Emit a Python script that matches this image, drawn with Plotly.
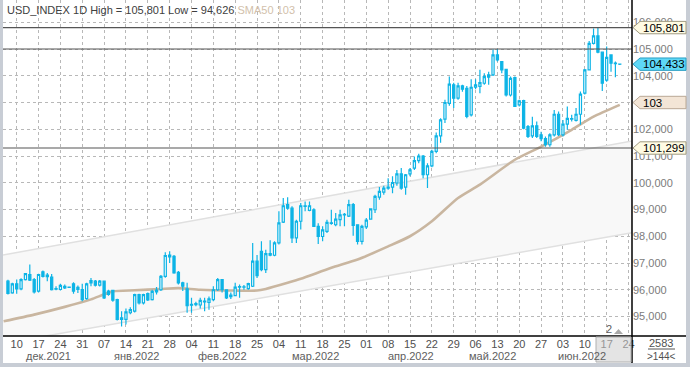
import plotly.graph_objects as go

# ---------------- data ----------------
first_index = -2   # trading-day number of the first candle, 0 = 10 Dec 2021
opens = [96.32, 95.88, 96.22, 96.03, 96.38, 96.57, 96.38, 95.95, 96.67, 96.55,
         96.47, 96.04, 96.01, 96.13, 96.09, 96.22, 96.01, 96.01, 95.67, 96.26,
         96.32, 96.17, 96.32, 95.95, 95.98, 95.63, 94.95, 94.89, 95.14, 95.20,
         95.82, 95.51, 95.86, 95.63, 95.92, 96.00, 96.50, 97.30, 97.25, 96.65,
         96.26, 96.03, 95.45, 95.44, 95.43, 95.55, 95.53, 95.63, 96.00, 96.38,
         96.00, 95.80, 95.78, 96.10, 96.10, 96.04, 96.13, 97.07, 97.44, 96.75,
         97.35, 97.29, 97.75, 98.53, 99.18, 99.05, 97.94, 98.56, 99.12, 98.97,
         98.99, 98.37, 97.99, 98.18, 98.50, 98.43, 98.62, 98.80, 98.75, 99.18,
         98.43, 97.81, 98.35, 98.64, 98.99, 99.46, 99.65, 99.80, 99.84, 99.99,
         100.33, 99.84, 100.33, 100.55, 100.83, 101.00, 100.30, 100.63, 101.17, 101.75,
         102.38, 102.97, 103.66, 103.16, 103.62, 103.53, 102.54, 103.57, 103.60, 103.72,
         103.95, 104.03, 104.78, 104.53, 104.24, 103.28, 103.93, 102.91, 103.07, 102.10,
         101.75, 102.13, 101.79, 101.65, 101.42, 101.79, 102.56, 101.79, 102.19, 102.38,
         102.33, 102.56, 103.35, 104.22, 105.21, 105.49, 104.88, 103.84, 104.78, 104.45,
         104.43]
highs = [96.37, 96.26, 96.38, 96.43, 96.63, 96.94, 96.44, 96.60, 96.72, 96.63,
         96.59, 96.13, 96.22, 96.20, 96.12, 96.28, 96.16, 96.22, 96.26, 96.44,
         96.36, 96.36, 96.34, 96.00, 96.00, 95.66, 95.20, 95.30, 95.35, 95.85,
         95.85, 95.85, 95.90, 96.00, 96.10, 96.55, 97.40, 97.44, 97.30, 96.70,
         96.30, 96.26, 95.70, 95.55, 95.70, 95.70, 95.75, 96.13, 96.44, 96.40,
         96.02, 95.90, 96.26, 96.20, 96.18, 96.26, 97.75, 97.30, 97.81, 97.50,
         97.85, 97.81, 98.93, 99.43, 99.46, 99.12, 98.62, 99.24, 99.30, 99.30,
         99.05, 98.49, 98.37, 98.62, 98.99, 98.87, 98.99, 98.87, 99.36, 99.24,
         98.45, 98.43, 98.68, 99.05, 99.55, 99.84, 99.89, 100.17, 100.24, 100.48,
         100.55, 100.33, 100.55, 100.98, 101.08, 101.04, 100.73, 101.23, 101.88, 102.41,
         103.10, 103.97, 103.74, 103.74, 103.66, 103.62, 103.87, 103.87, 104.22, 104.09,
         104.15, 104.99, 105.00, 104.55, 104.26, 103.97, 103.97, 103.10, 103.10, 102.16,
         102.47, 102.29, 101.91, 101.73, 101.85, 102.72, 102.66, 102.35, 102.85, 102.54,
         102.79, 103.41, 104.25, 105.30, 105.77, 105.801, 104.90, 105.09, 104.80, 104.53,
         104.46]
lows = [95.82, 95.85, 95.85, 95.98, 96.35, 96.33, 95.86, 95.90, 96.46, 96.32,
        95.97, 95.98, 95.97, 96.03, 96.07, 95.85, 95.88, 95.57, 95.63, 96.13,
        96.12, 96.12, 95.65, 95.78, 95.55, 94.85, 94.626, 94.70, 95.08, 95.15,
        95.45, 95.45, 95.58, 95.60, 95.82, 95.95, 96.45, 97.00, 96.60, 96.20,
        95.95, 95.14, 95.14, 95.38, 95.30, 95.20, 95.25, 95.57, 95.95, 95.90,
        95.65, 95.65, 95.76, 95.70, 96.00, 96.00, 96.10, 96.44, 96.69, 96.63,
        97.25, 97.25, 97.69, 98.50, 98.99, 97.75, 97.75, 98.25, 98.93, 98.93,
        98.35, 97.71, 97.81, 98.12, 98.43, 98.37, 98.37, 98.37, 98.72, 98.02,
        97.69, 97.69, 98.27, 98.62, 98.87, 99.36, 99.55, 99.74, 99.61, 99.89,
        99.74, 99.55, 100.24, 100.48, 100.73, 100.17, 99.80, 100.58, 101.10, 101.50,
        102.23, 102.88, 102.79, 103.10, 103.40, 102.41, 102.48, 103.50, 103.35, 103.66,
        103.66, 103.99, 104.53, 104.09, 103.22, 103.22, 102.83, 102.85, 102.00, 101.67,
        101.67, 101.67, 101.55, 101.35, 101.35, 101.73, 101.75, 101.73, 101.98, 102.29,
        102.29, 102.17, 103.30, 104.20, 105.17, 104.84, 103.43, 103.78, 104.15, 103.94,
        104.40]
closes = [95.86, 96.22, 96.03, 96.38, 96.60, 96.36, 95.92, 96.57, 96.50, 96.49,
          96.00, 96.02, 96.16, 96.07, 96.10, 95.95, 96.09, 95.63, 96.22, 96.34,
          96.17, 96.32, 95.70, 95.83, 95.61, 94.89, 94.89, 95.17, 95.26, 95.82,
          95.51, 95.82, 95.62, 95.94, 95.99, 96.50, 97.28, 97.23, 96.63, 96.26,
          96.13, 95.41, 95.42, 95.48, 95.60, 95.58, 95.66, 96.00, 96.38, 96.00,
          95.70, 95.74, 96.10, 96.12, 96.11, 96.23, 97.07, 96.53, 96.75, 97.35,
          97.29, 97.75, 98.50, 99.14, 99.05, 97.94, 98.56, 99.14, 99.14, 99.14,
          98.37, 97.99, 98.24, 98.52, 98.48, 98.64, 98.80, 98.82, 99.18, 98.41,
          97.81, 98.37, 98.60, 99.02, 99.49, 99.68, 99.80, 99.84, 100.01, 100.33,
          99.80, 100.30, 100.48, 100.83, 101.00, 100.30, 100.63, 101.17, 101.75, 102.35,
          103.00, 103.69, 103.16, 103.62, 103.50, 102.48, 103.57, 103.66, 103.74, 103.97,
          104.03, 104.78, 104.59, 104.22, 103.28, 103.90, 102.85, 103.06, 102.04, 101.73,
          102.13, 101.73, 101.65, 101.42, 101.79, 102.56, 101.80, 102.19, 102.41, 102.40,
          102.56, 103.31, 104.22, 105.21, 105.49, 104.88, 103.72, 104.69, 104.47, 104.47,
          104.433]

# SMA50 (trading-day number, value)
sma_days = [-3, 4, 11, 17, 22, 27, 33, 37, 42, 50, 55, 57, 62, 65, 72, 78,
            85, 90, 95, 101, 106, 114, 120, 127, 132, 138]
sma_vals = [94.82, 95.07, 95.36, 95.64, 95.94, 95.98, 96.03, 96.06, 96.00, 95.97,
            95.97, 96.03, 96.26, 96.41, 96.82, 97.13, 97.62, 98.00, 98.56, 99.43,
            99.93, 100.86, 101.35, 101.98, 102.47, 102.91]

# regression channel end points
channel_days = [-3.135, 140.8]
channel_upper = [97.30, 101.56]
channel_lower = [93.99, 98.13]

# horizontal levels
level_high = 105.801
level_mid = 105.0
level_low = 101.299
last_price = 104.433
sma_last = 103

# week ticks (Fridays) and labels
week_days = list(range(0, 141, 5))
day_labels = ["10", "17", "24", "31", "07", "14", "21", "28", "04", "11", "18", "25",
              "04", "11", "18", "25", "01", "08", "15", "22", "29", "06", "13", "20",
              "27", "03", "10", "17", "24"]
month_labels = ["дек.2021", "янв.2022", "фев.2022", "мар.2022", "апр.2022", "май.2022", "июн.2022"]
month_pos = [7.2, 27.3, 47.2, 68.3, 90.2, 108.8, 129.4]
y_ticks = [95, 96, 97, 98, 99, 100, 101, 102, 103, 104, 105, 106]
# 103,000 sits completely under the SMA price box in the reference
y_tick_text = ["95,000", "96,000", "97,000", "98,000", "99,000", "100,000", "101,000",
               "102,000", "", "104,000", "105,000", "106,000"]

# ---------------- styling / geometry ----------------
W, H = 690, 367
L, R, T, B = 3, 58, 0, 31
PW = W - L - R   # 629
PH = H - T - B   # 336
X_RANGE = [-3.135, 140.8]
Y_RANGE = [94.271, 106.832]
BLUE = "#0db4e6"
FONT = "Liberation Sans, Arial, sans-serif"


def px(xp):
    return (xp - L) / PW


def py(yp):
    return (PH + T - yp) / PH


days = list(range(first_index, first_index + len(opens)))

fig = go.Figure()

# channel band (base axes)
fig.add_trace(go.Scatter(
    x=channel_days + channel_days[::-1],
    y=channel_upper + channel_lower[::-1],
    fill="toself", fillcolor="#f8f8f8", mode="lines",
    line=dict(color="#e0e0e0", width=1.5), hoverinfo="skip", showlegend=False))

# SMA (base axes)
fig.add_trace(go.Scatter(
    x=sma_days, y=sma_vals, mode="lines",
    line=dict(color="#c9b6a0", width=2.6, shape="spline", smoothing=0.6),
    hoverinfo="skip", showlegend=False))

# candles on overlaying axes so they sit above the band and SMA
fig.add_trace(go.Candlestick(
    x=days, open=opens, high=highs, low=lows, close=closes,
    xaxis="x2", yaxis="y2",
    increasing=dict(line=dict(color=BLUE, width=1.2), fillcolor="white"),
    decreasing=dict(line=dict(color=BLUE, width=1.2), fillcolor=BLUE),
    whiskerwidth=0, showlegend=False))

shapes = []
# white chart background inside window frame
shapes.append(dict(type="rect", xref="paper", yref="paper", x0=px(3), x1=px(686),
                   y0=py(363), y1=py(0) + 0.01, fillcolor="white", line=dict(width=0),
                   layer="below"))
# horizontal level lines
for lv in (level_high, level_mid, level_low):
    shapes.append(dict(type="line", xref="paper", yref="y", x0=0, x1=1, y0=lv, y1=lv,
                       line=dict(color="#555555", width=1.2), layer="above"))
# frame lines
shapes.append(dict(type="line", xref="paper", yref="paper", x0=1, x1=1, y0=py(363), y1=1,
                   line=dict(color="black", width=1.5), layer="above"))
shapes.append(dict(type="line", xref="paper", yref="paper", x0=0, x1=px(686), y0=0, y1=0,
                   line=dict(color="black", width=1.5), layer="above"))
# scroll box in time axis
shapes.append(dict(type="rect", xref="paper", yref="paper", x0=px(596), x1=px(631),
                   y0=py(362), y1=py(337), fillcolor="rgba(205,205,205,0.55)",
                   line=dict(color="#b0b0b0", width=1), layer="above"))
# underline under 2583
shapes.append(dict(type="line", xref="paper", yref="paper", x0=px(648), x1=px(675),
                   y0=py(349), y1=py(349), line=dict(color="#555555", width=1), layer="above"))
# small triangle marker
shapes.append(dict(type="path", xref="paper", yref="paper",
                   path=f"M {px(614)},{py(334)} L {px(623)},{py(334)} L {px(618.5)},{py(329)} Z",
                   fillcolor="#a8a8a8", line=dict(width=0), layer="above"))

annotations = []
# price label boxes
hh = 6.2 / 26.75
for val, txt, bg, border in [
    (level_high, "105,801", "#fffbe3", "#a09a80"),
    (last_price, "104,433", "#5ed8f7", "#2a9fc4"),
    (sma_last, "103", "#f3e5d6", "#b9a895"),
    (level_low, "101,299", "#fffbe3", "#a09a80"),
]:
    x_tip, x_l, x_r = px(633), px(640), px(686)
    shapes.append(dict(type="path", xref="paper", yref="y",
                       path=(f"M {x_tip},{val} L {x_l},{val + hh} L {x_r},{val + hh} "
                             f"L {x_r},{val - hh} L {x_l},{val - hh} Z"),
                       fillcolor=bg, line=dict(color=border, width=1), layer="above"))
    annotations.append(dict(xref="paper", yref="y", x=px(641), y=val, text=txt,
                            showarrow=False, xanchor="left", yanchor="middle",
                            font=dict(family=FONT, size=11.5, color="black")))

# header
annotations.append(dict(
    xref="paper", yref="paper", x=px(5), y=py(10), xanchor="left", yanchor="middle",
    text=("USD_INDEX 1D High = 105,801 Low = 94,626&nbsp;"
          "<span style='color:#d2bfab'>SMA50 103</span>"),
    showarrow=False, font=dict(family=FONT, size=11, color="#404040")))

# month labels
for pos, txt in zip(month_pos, month_labels):
    annotations.append(dict(xref="x", yref="paper", x=pos, y=py(356), text=txt,
                            showarrow=False, xanchor="center", yanchor="middle",
                            font=dict(family=FONT, size=11, color="#606060")))

# bottom-right counters
annotations.append(dict(xref="paper", yref="paper", x=px(661), y=py(343), text="2583",
                        showarrow=False, xanchor="center", yanchor="middle",
                        font=dict(family=FONT, size=11, color="#505050")))
annotations.append(dict(xref="paper", yref="paper", x=px(661), y=py(356), text="&gt;144&lt;",
                        showarrow=False, xanchor="center", yanchor="middle",
                        font=dict(family=FONT, size=10, color="#505050")))
annotations.append(dict(xref="paper", yref="paper", x=px(609), y=py(329), text="2",
                        showarrow=False, xanchor="center", yanchor="middle",
                        font=dict(family=FONT, size=11, color="#606060")))

fig.update_layout(
    width=W, height=H,
    margin=dict(l=L, r=R, t=T, b=B),
    paper_bgcolor="#c8cdd5",
    plot_bgcolor="white",
    shapes=shapes,
    annotations=annotations,
    showlegend=False,
    hovermode=False,
    xaxis=dict(
        range=X_RANGE, rangeslider=dict(visible=False),
        tickmode="array", tickvals=week_days, ticktext=day_labels,
        showgrid=True, gridcolor="#b8b8b8", griddash="3px,3px", gridwidth=1,
        zeroline=False, showline=False, ticks="",
        tickfont=dict(family=FONT, size=11, color="#505050"),
    ),
    yaxis=dict(
        range=Y_RANGE, side="right",
        tickmode="array", tickvals=y_ticks, ticktext=y_tick_text,
        showgrid=True, gridcolor="#b8b8b8", griddash="3px,3px", gridwidth=1,
        zeroline=False, showline=False, ticks="",
        tickfont=dict(family=FONT, size=11, color="#7c7c7c"),
    ),
    xaxis2=dict(range=X_RANGE, overlaying="x", visible=False,
                rangeslider=dict(visible=False), fixedrange=True),
    yaxis2=dict(range=Y_RANGE, overlaying="y", visible=False, fixedrange=True),
)

fig.write_html("out.html",
               config={"displayModeBar": False, "staticPlot": True},
               post_script="document.body.style.margin='0';document.body.style.padding='0';")
